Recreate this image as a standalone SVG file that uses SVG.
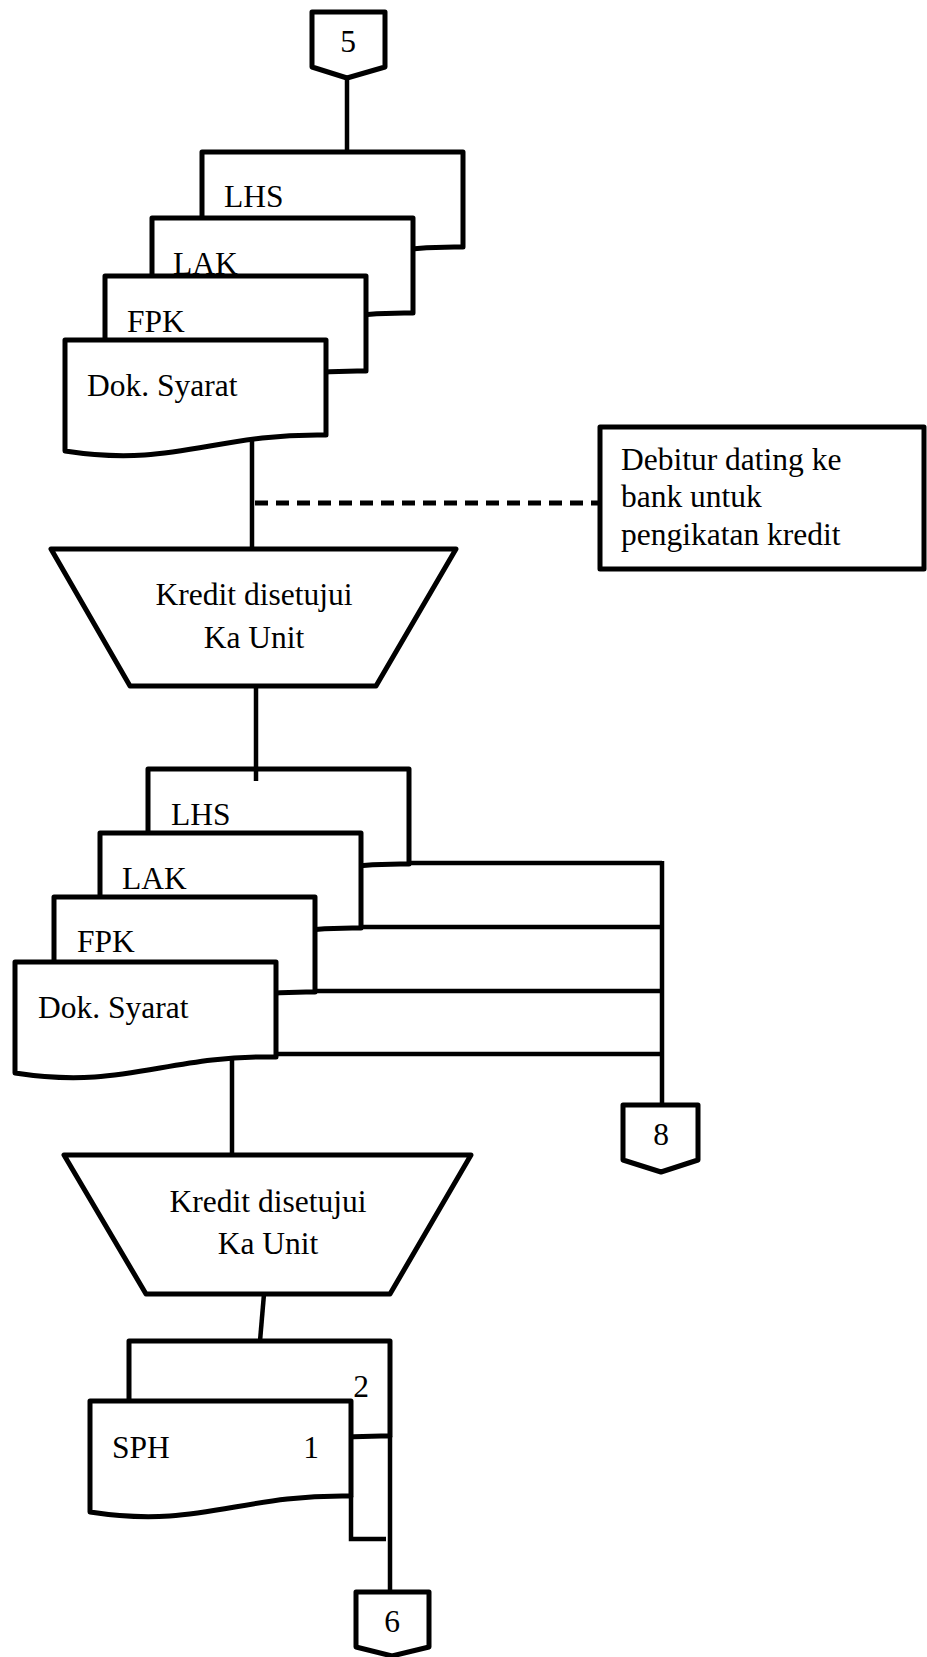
<svg xmlns="http://www.w3.org/2000/svg" width="927" height="1657" viewBox="0 0 927 1657">
  <defs>
    <!-- document symbol: flat top, wavy bottom -->
    <path id="doc" d="M0,0 H261 V95 C150,93 110,128 0,111 Z"/>
  </defs>
  <style>
    .shape { fill: #ffffff; stroke: #000000; stroke-width: 5; stroke-linejoin: round; }
    .conn { fill: none; stroke: #000000; stroke-width: 4.5; }
    .dash { fill: none; stroke: #000000; stroke-width: 5; stroke-dasharray: 13 8; }
    text { font-family: 'Liberation Serif', Tinos, 'Times New Roman', 'DejaVu Serif', serif; font-size: 31.5px; fill: #000000; }
    .mid { text-anchor: middle; }
  </style>
  <rect width="927" height="1657" fill="#ffffff"/>

  <!-- off-page connector 5 -->
  <g id="conn-5">
    <polygon class="shape" points="312,12 385,12 385,67 347,78 312,67"/>
    <text class="mid" x="348" y="52" font-family="Liberation Serif">5</text>
  </g>

  <!-- first document stack -->
  <g id="docs-1">
    <use href="#doc" class="shape" transform="translate(202,152)"/>
    <text x="224" y="207" font-family="Liberation Serif">LHS</text>
    <use href="#doc" class="shape" transform="translate(152,218)"/>
    <text x="173" y="274" font-family="Liberation Serif">LAK</text>
    <use href="#doc" class="shape" transform="translate(105,276)"/>
    <text x="127" y="332" font-family="Liberation Serif">FPK</text>
    <use href="#doc" class="shape" transform="translate(65,340)"/>
    <text x="87" y="396" font-family="Liberation Serif">Dok. Syarat</text>
  </g>

  <!-- annotation -->
  <g id="note">
    <rect class="shape" x="600" y="427" width="324" height="142"/>
    <text x="621" y="470" font-family="Liberation Serif">Debitur dating ke</text>
    <text x="621" y="507" font-family="Liberation Serif">bank untuk</text>
    <text x="621" y="545" font-family="Liberation Serif">pengikatan kredit</text>
  </g>

  <!-- manual operation 1 -->
  <g id="approve-1">
    <polygon class="shape" points="51,549 456,549 376,686 130,686"/>
    <text class="mid" x="254" y="605" font-family="Liberation Serif">Kredit disetujui</text>
    <text class="mid" x="254" y="648" font-family="Liberation Serif">Ka Unit</text>
  </g>

  <!-- second document stack -->
  <g id="docs-2">
    <use href="#doc" class="shape" transform="translate(148,769)"/>
    <text x="171" y="825" font-family="Liberation Serif">LHS</text>
    <use href="#doc" class="shape" transform="translate(100,833)"/>
    <text x="122" y="889" font-family="Liberation Serif">LAK</text>
    <use href="#doc" class="shape" transform="translate(54,897)"/>
    <text x="77" y="952" font-family="Liberation Serif">FPK</text>
    <use href="#doc" class="shape" transform="translate(15,962)"/>
    <text x="38" y="1018" font-family="Liberation Serif">Dok. Syarat</text>
  </g>

  <!-- off-page connector 8 -->
  <g id="conn-8">
    <polygon class="shape" points="623,1105 698,1105 698,1160 661,1172 623,1160"/>
    <text class="mid" x="661" y="1145" font-family="Liberation Serif">8</text>
  </g>

  <!-- manual operation 2 -->
  <g id="approve-2">
    <polygon class="shape" points="64,1155 471,1155 390,1294 146,1294"/>
    <text class="mid" x="268" y="1212" font-family="Liberation Serif">Kredit disetujui</text>
    <text class="mid" x="268" y="1254" font-family="Liberation Serif">Ka Unit</text>
  </g>

  <!-- SPH in two copies -->
  <g id="sph">
    <use href="#doc" class="shape" transform="translate(129,1341)"/>
    <use href="#doc" class="shape" transform="translate(90,1401)"/>
    <text class="mid" x="361" y="1397" font-family="Liberation Serif">2</text>
    <text x="112" y="1458" font-family="Liberation Serif">SPH</text>
    <text class="mid" x="311" y="1458" font-family="Liberation Serif">1</text>
  </g>

  <!-- off-page connector 6 -->
  <g id="conn-6">
    <polygon class="shape" points="356,1592 429,1592 429,1647 392,1656 356,1647"/>
    <text class="mid" x="392" y="1632" font-family="Liberation Serif">6</text>
  </g>

  <!-- flow lines -->
  <g id="connectors">
    <line class="conn" x1="347" y1="78" x2="347" y2="152"/>
    <line class="conn" x1="252" y1="439" x2="252" y2="549"/>
    <line class="dash" x1="255" y1="503" x2="600" y2="503"/>
    <line class="conn" x1="256" y1="686" x2="256" y2="781"/>
    <line class="conn" x1="409" y1="863" x2="662" y2="863"/>
    <line class="conn" x1="361" y1="927" x2="662" y2="927"/>
    <line class="conn" x1="315" y1="991" x2="662" y2="991"/>
    <line class="conn" x1="276" y1="1054" x2="662" y2="1054"/>
    <line class="conn" x1="662" y1="861" x2="662" y2="1105"/>
    <line class="conn" x1="232" y1="1058" x2="232" y2="1155"/>
    <line class="conn" x1="264" y1="1294" x2="260" y2="1341"/>
    <line class="conn" x1="390" y1="1436" x2="390" y2="1590"/>
    <polyline class="conn" points="351,1496 351,1539 386,1539"/>
  </g>
</svg>
